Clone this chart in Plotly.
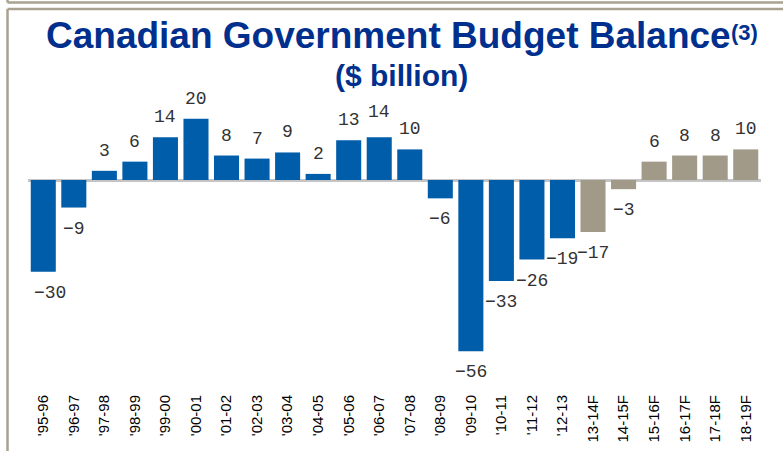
import plotly.graph_objects as go

# Fiscal years (F = forecast)
years = ["'95-96", "'96-97", "'97-98", "'98-99", "'99-00", "'00-01", "'01-02",
         "'02-03", "'03-04", "'04-05", "'05-06", "'06-07", "'07-08", "'08-09",
         "'09-10", "'10-11", "'11-12", "'12-13", "13-14F", "14-15F", "15-16F",
         "16-17F", "17-18F", "18-19F"]
balance = [-30, -9, 3, 6, 14, 20, 8, 7, 9, 2, 13, 14, 10, -6,
           -56, -33, -26, -19, -17, -3, 6, 8, 8, 10]
is_forecast = [y.endswith("F") for y in years]

ACTUAL_COLOR = "#005DAA"
FORECAST_COLOR = "#A19A88"
TITLE_COLOR = "#002F8E"
FRAME_COLOR = "#A8A291"

W, H = 783, 451
M_L, M_R, M_T, M_B = 28, 22, 95, 62
PLOT_W = W - M_L - M_R
PLOT_H = H - M_T - M_B


def px_x(p):
    return (p - M_L) / PLOT_W


def px_y(p):
    return (H - M_B - p) / PLOT_H


fig = go.Figure(go.Bar(
    x=years,
    y=balance,
    marker=dict(color=[FORECAST_COLOR if f else ACTUAL_COLOR for f in is_forecast],
                line=dict(width=0)),
    hoverinfo="x+y",
))

# value labels, with a few hand nudges where they would crowd
nudge = {"'95-96": (7, 0), "'06-07": (0, 5)}
for yr, v in zip(years, balance):
    dx, dy = nudge.get(yr, (0, 0))
    label = str(v).replace("-", "\u2212")
    fig.add_annotation(
        x=yr, y=v, text=label,
        showarrow=False, xanchor="center", yanchor="middle",
        xshift=dx, yshift=(20 if v >= 0 else -21) + dy,
        font=dict(family="Liberation Mono, Courier New, monospace", size=18, color="#333333"),
    )

# titles
fig.add_annotation(
    xref="paper", yref="paper", x=px_x(44), y=px_y(35.5),
    text="<b>Canadian Government Budget Balance</b>",
    showarrow=False, xanchor="left", yanchor="middle",
    font=dict(family="Liberation Sans, Arial, sans-serif", size=37, color=TITLE_COLOR),
)
fig.add_annotation(
    xref="paper", yref="paper", x=px_x(729), y=px_y(32),
    text="<b>(3)</b>",
    showarrow=False, xanchor="left", yanchor="middle",
    font=dict(family="Liberation Sans, Arial, sans-serif", size=22, color=TITLE_COLOR),
)
fig.add_annotation(
    xref="paper", yref="paper", x=px_x(401), y=px_y(75.6),
    text="<b>($ billion)</b>",
    showarrow=False, xanchor="center", yanchor="middle",
    font=dict(family="Liberation Sans, Arial, sans-serif", size=30, color=TITLE_COLOR),
)

# slide frame lines
frame = [
    (7.5, 2.5, W, 2.5),
    (7.5, 0, 7.5, 2.5),
    (7.5, 9, W, 9),
    (7.5, 9, 7.5, H),
]
for x0, y0, x1, y1 in frame:
    fig.add_shape(type="line", xref="paper", yref="paper",
                  x0=px_x(x0), y0=px_y(y0), x1=px_x(x1), y1=px_y(y1),
                  line=dict(color=FRAME_COLOR, width=2.5), layer="above")

zero_px = 180
top_val = (zero_px - M_T) / 3.06
bot_val = -(H - M_B - zero_px) / 3.06

fig.update_layout(
    width=W, height=H,
    margin=dict(l=M_L, r=M_R, t=M_T, b=M_B, autoexpand=False),
    paper_bgcolor="white", plot_bgcolor="white",
    showlegend=False,
    bargap=0.18,
    xaxis=dict(type="category", tickangle=-90, showline=False, ticks="",
               ticklabelstandoff=2,
               showgrid=False, zeroline=False, automargin=False,
               tickfont=dict(family="Liberation Sans, Arial, sans-serif", size=15, color="black")),
    yaxis=dict(range=[bot_val, top_val], showticklabels=False, showgrid=False,
               zeroline=True, zerolinecolor="#C4C4C4", zerolinewidth=3,
               showline=False, ticks="", automargin=False),
)

fig.write_html("out.html")
